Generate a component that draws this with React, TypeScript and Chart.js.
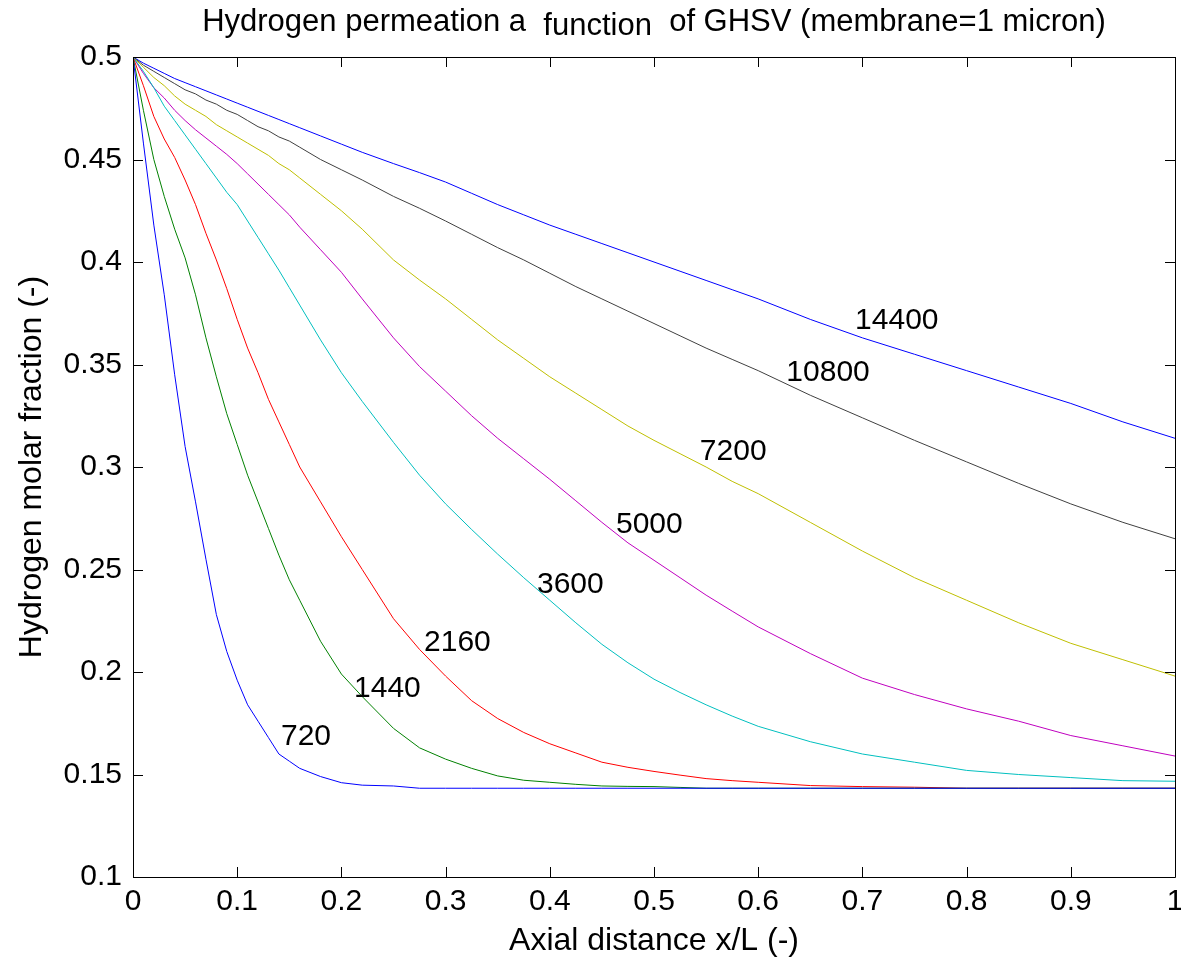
import React, { useEffect, useRef } from 'react';
import { Chart, registerables } from 'chart.js';

Chart.register(...registerables);

// Axial positions (x/L) shared by every curve
const xGrid = [0, 0.01, 0.02, 0.03, 0.04, 0.05, 0.06, 0.07, 0.08, 0.09, 0.1, 0.11, 0.12, 0.13, 0.14, 0.15, 0.16, 0.18, 0.2, 0.22, 0.25, 0.275, 0.3, 0.325, 0.35, 0.375, 0.4, 0.425, 0.45, 0.475, 0.5, 0.525, 0.55, 0.575, 0.6, 0.65, 0.7, 0.75, 0.8, 0.85, 0.9, 0.95, 1.0];

// Hydrogen molar fraction for each GHSV
const s720 = [0.5, 0.458, 0.418, 0.384, 0.345, 0.31, 0.283, 0.255, 0.228, 0.21, 0.196, 0.184, 0.176, 0.168, 0.16, 0.1565, 0.153, 0.149, 0.146, 0.1448, 0.1444, 0.1433, 0.1433, 0.1433, 0.1433, 0.1433, 0.1433, 0.1433, 0.1433, 0.1433, 0.1433, 0.1433, 0.1433, 0.1433, 0.1433, 0.1433, 0.1433, 0.1433, 0.1433, 0.1433, 0.1433, 0.1433, 0.1433];
const s1440 = [0.5, 0.474, 0.45, 0.432, 0.416, 0.402, 0.384, 0.363, 0.344, 0.326, 0.311, 0.296, 0.283, 0.27, 0.257, 0.245, 0.235, 0.215, 0.199, 0.188, 0.1725, 0.163, 0.1575, 0.153, 0.1493, 0.1472, 0.1462, 0.1452, 0.1444, 0.1442, 0.1441, 0.1437, 0.1433, 0.1433, 0.1433, 0.1433, 0.1433, 0.1433, 0.1433, 0.1433, 0.1433, 0.1433, 0.1433];
const s2160 = [0.5, 0.486, 0.471, 0.46, 0.451, 0.44, 0.428, 0.414, 0.401, 0.387, 0.372, 0.358, 0.346, 0.333, 0.322, 0.311, 0.3, 0.283, 0.266, 0.25, 0.226, 0.211, 0.198, 0.186, 0.1773, 0.1705, 0.165, 0.1605, 0.156, 0.1535, 0.1515, 0.1497, 0.148, 0.147, 0.1462, 0.1446, 0.1441, 0.1438, 0.1433, 0.1433, 0.1433, 0.1433, 0.1433];
const s3600 = [0.5, 0.493, 0.485, 0.476, 0.469, 0.462, 0.455, 0.448, 0.441, 0.434, 0.428, 0.42, 0.412, 0.404, 0.396, 0.3875, 0.379, 0.362, 0.346, 0.332, 0.312, 0.296, 0.282, 0.2695, 0.2575, 0.246, 0.235, 0.224, 0.2135, 0.2045, 0.1965, 0.19, 0.184, 0.1785, 0.1735, 0.166, 0.16, 0.156, 0.152, 0.15, 0.1485, 0.147, 0.1467];
const s5000 = [0.5, 0.492, 0.485, 0.48, 0.474, 0.469, 0.4645, 0.4605, 0.4565, 0.4525, 0.448, 0.443, 0.438, 0.433, 0.428, 0.423, 0.417, 0.406, 0.395, 0.382, 0.363, 0.349, 0.337, 0.325, 0.314, 0.304, 0.294, 0.2835, 0.273, 0.263, 0.2545, 0.246, 0.2375, 0.2297, 0.222, 0.209, 0.197, 0.189, 0.182, 0.176, 0.169, 0.164, 0.159];
const s7200 = [0.5, 0.495, 0.49, 0.486, 0.481, 0.477, 0.474, 0.471, 0.467, 0.464, 0.461, 0.458, 0.455, 0.452, 0.448, 0.445, 0.441, 0.433, 0.425, 0.416, 0.401, 0.3912, 0.382, 0.372, 0.362, 0.353, 0.344, 0.336, 0.328, 0.32, 0.313, 0.3065, 0.3, 0.293, 0.287, 0.273, 0.259, 0.246, 0.235, 0.224, 0.214, 0.206, 0.198];
const s10800 = [0.5, 0.496, 0.493, 0.49, 0.487, 0.484, 0.482, 0.479, 0.477, 0.474, 0.472, 0.469, 0.466, 0.464, 0.461, 0.459, 0.456, 0.45, 0.445, 0.44, 0.432, 0.4262, 0.42, 0.4135, 0.407, 0.401, 0.3945, 0.388, 0.382, 0.376, 0.37, 0.364, 0.358, 0.3525, 0.347, 0.335, 0.324, 0.313, 0.3025, 0.292, 0.282, 0.273, 0.265];
const s14400 = [0.5, 0.497, 0.4945, 0.492, 0.4895, 0.4875, 0.4855, 0.4835, 0.4815, 0.4795, 0.4775, 0.4755, 0.4735, 0.4715, 0.4695, 0.4675, 0.4655, 0.4615, 0.4575, 0.4535, 0.448, 0.4436, 0.439, 0.4335, 0.428, 0.423, 0.418, 0.4135, 0.409, 0.4045, 0.4, 0.3955, 0.391, 0.3865, 0.382, 0.372, 0.363, 0.355, 0.347, 0.339, 0.331, 0.322, 0.314];

const seriesNames = ['720', '1440', '2160', '3600', '5000', '7200', '10800', '14400'];
const seriesValues = [s720, s1440, s2160, s3600, s5000, s7200, s10800, s14400];
const seriesColors = ['#0000FF', '#008000', '#FF0000', '#00BFBF', '#BF00BF', '#BFBF00', '#404040', '#0000FF'];

// In-plot curve labels (data coordinates: left edge x, vertical middle y)
const curveLabelX = [0.142, 0.2121, 0.2793, 0.3877, 0.4635, 0.544, 0.627, 0.693];
const curveLabelY = [0.1683, 0.1917, 0.2141, 0.2424, 0.2717, 0.3073, 0.3459, 0.3712];

const xTicks = [0, 0.1, 0.2, 0.3, 0.4, 0.5, 0.6, 0.7, 0.8, 0.9, 1];
const xTickLabels = ['0', '0.1', '0.2', '0.3', '0.4', '0.5', '0.6', '0.7', '0.8', '0.9', '1'];
const yTicks = [0.1, 0.15, 0.2, 0.25, 0.3, 0.35, 0.4, 0.45, 0.5];
const yTickLabels = ['0.1', '0.15', '0.2', '0.25', '0.3', '0.35', '0.4', '0.45', '0.5'];

const titleParts = ['Hydrogen permeation a  ', 'function', '  of GHSV (membrane=1 micron)'];
const xTitle = 'Axial distance x/L (-)';
const yTitle = 'Hydrogen molar fraction (-)';

const FONT = "'Liberation Sans', Arial, Helvetica, sans-serif";

const framePlugin = {
  id: 'matlabFrame',
  afterDatasetsDraw(chart: any) {
    const { ctx, chartArea: a, scales } = chart;
    const xs = scales.x;
    const ys = scales.y;
    ctx.save();
    ctx.strokeStyle = '#000';
    ctx.lineWidth = 1;
    ctx.beginPath();
    ctx.rect(Math.round(a.left) + 0.5, Math.round(a.top) + 0.5, Math.round(a.right - a.left), Math.round(a.bottom - a.top));
    ctx.stroke();
    const tl = 10;
    ctx.beginPath();
    xTicks.forEach((v) => {
      const px = Math.round(xs.getPixelForValue(v)) + 0.5;
      ctx.moveTo(px, a.bottom);
      ctx.lineTo(px, a.bottom - tl);
      ctx.moveTo(px, a.top);
      ctx.lineTo(px, a.top + tl);
    });
    yTicks.forEach((v) => {
      const py = Math.round(ys.getPixelForValue(v)) + 0.5;
      ctx.moveTo(a.left, py);
      ctx.lineTo(a.left + tl, py);
      ctx.moveTo(a.right, py);
      ctx.lineTo(a.right - tl, py);
    });
    ctx.stroke();

    // curve labels
    ctx.fillStyle = '#000';
    ctx.font = `30px ${FONT}`;
    ctx.textAlign = 'left';
    ctx.textBaseline = 'middle';
    seriesNames.forEach((name, i) => {
      ctx.fillText(name, xs.getPixelForValue(curveLabelX[i]), ys.getPixelForValue(curveLabelY[i]));
    });

    // title, centred over the plot area
    ctx.font = `31px ${FONT}`;
    ctx.textBaseline = 'alphabetic';
    const widths = titleParts.map((t) => ctx.measureText(t).width);
    const total = widths.reduce((s, w) => s + w, 0);
    let x = (a.left + a.right) / 2 - total / 2;
    const baseY = 31;
    titleParts.forEach((t, i) => {
      ctx.fillText(t, x, i === 1 ? baseY + 4 : baseY);
      x += widths[i];
    });
    ctx.restore();
  },
};

export default function App() {
  const canvasRef = useRef<HTMLCanvasElement | null>(null);

  useEffect(() => {
    const canvas = canvasRef.current;
    if (!canvas) return;
    const datasets = seriesNames.map((name, i) => ({
      label: name,
      data: xGrid.map((x, j) => ({ x, y: seriesValues[i][j] })),
      borderColor: seriesColors[i],
      backgroundColor: seriesColors[i],
      borderWidth: 1,
      pointRadius: 0,
      tension: 0,
      fill: false,
    }));

    const chart = new Chart(canvas, {
      type: 'line',
      data: { datasets },
      options: {
        animation: false,
        responsive: false,
        maintainAspectRatio: false,
        layout: { padding: { top: 57, left: 0, right: 6, bottom: 0 } },
        plugins: {
          legend: { display: false },
          title: { display: false },
          tooltip: { enabled: false },
        },
        scales: {
          x: {
            type: 'linear',
            min: 0,
            max: 1,
            grid: { display: false, drawTicks: false },
            border: { display: false },
            afterBuildTicks: (s: any) => {
              s.ticks = xTicks.map((v) => ({ value: v }));
            },
            afterFit: (s: any) => {
              s.height = 83;
              s.paddingLeft = 0;
              s.paddingRight = 0;
            },
            ticks: {
              autoSkip: false,
              maxRotation: 0,
              padding: 7,
              color: '#000',
              font: { family: FONT, size: 30 },
              callback: (_v: any, i: number) => xTickLabels[i],
            },
            title: {
              display: true,
              text: xTitle,
              color: '#000',
              font: { family: FONT, size: 32 },
              padding: { top: 0, bottom: 0 },
            },
          },
          y: {
            type: 'linear',
            min: 0.1,
            max: 0.5,
            grid: { display: false, drawTicks: false },
            border: { display: false },
            afterBuildTicks: (s: any) => {
              s.ticks = yTicks.map((v) => ({ value: v }));
            },
            afterFit: (s: any) => {
              s.width = 133;
              s.paddingTop = 0;
              s.paddingBottom = 0;
            },
            ticks: {
              autoSkip: false,
              padding: 11,
              color: '#000',
              font: { family: FONT, size: 30 },
              callback: (_v: any, i: number) => yTickLabels[i],
            },
            title: {
              display: true,
              text: yTitle,
              color: '#000',
              font: { family: FONT, size: 32 },
              padding: { top: 13, bottom: 0 },
            },
          },
        },
      },
      plugins: [framePlugin],
    });
    return () => chart.destroy();
  }, []);

  return (
    <div style={{ position: 'absolute', left: 0, top: 0, width: 1181, height: 960, background: '#fff' }}>
      <canvas ref={canvasRef} width={1181} height={960} style={{ display: 'block' }} />
    </div>
  );
}
